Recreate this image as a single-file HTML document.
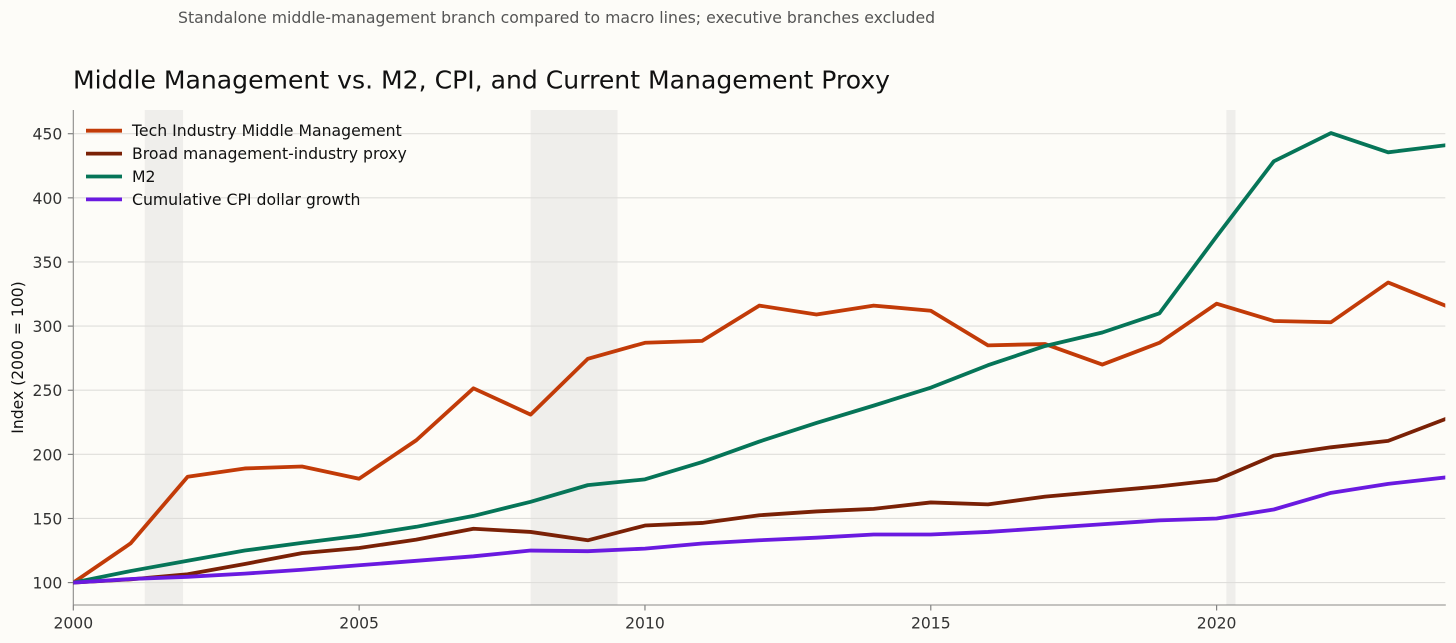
<!DOCTYPE html>
<html lang="en">
<head>
<meta charset="utf-8">
<title>Middle Management vs. M2, CPI, and Current Management Proxy</title>
<style>
  html, body { margin: 0; padding: 0; background: #fdfcf8; }
  body { width: 1456px; height: 643px; overflow: hidden; }
  svg { display: block; font-family: "DejaVu Sans", "Liberation Sans", sans-serif; }
</style>
</head>
<body>
<svg id="chart" xmlns="http://www.w3.org/2000/svg" width="1456" height="643" viewBox="0 0 1456 643">
  <rect x="0" y="0" width="1456" height="643" fill="#fdfcf8"/>
  <text x="178" y="23.2" font-size="15.7" fill="#555555">Standalone middle-management branch compared to macro lines; executive branches excluded</text>
  <text x="73" y="88.6" font-size="25.1" fill="#111111">Middle Management vs. M2, CPI, and Current Management Proxy</text>
  <text transform="translate(23 357.5) rotate(-90)" text-anchor="middle" font-size="15.6" fill="#111111">Index (2000 = 100)</text>
  <defs>
    <clipPath id="plot-clip"><rect x="73.3" y="110" width="1372" height="495"/></clipPath>
  </defs>
  <g id="recessions"></g>
  <g id="grid"></g>
  <g id="axes"></g>
  <g id="series" clip-path="url(#plot-clip)"></g>
  <g id="legend"></g>
</svg>
<script>
const years = [2000,2001,2002,2003,2004,2005,2006,2007,2008,2009,2010,2011,2012,2013,2014,2015,2016,2017,2018,2019,2020,2021,2022,2023,2024];
const techValues = [100,130.5,182.5,189,190.5,181,211,251.5,231,274.5,287,288.5,316,309,316,312,285,286,270,287,317.5,304,303,334,316];
const broadValues = [100,102.5,106.5,114.5,123,127,133.5,142,139.5,133,144.5,146.5,152.5,155.5,157.5,162.5,161,167,171,175,180,199,205.5,210.5,227.5];
const m2Values = [100,109,117,125,131,136.5,143.5,152,163,176,180.5,194,210,224.5,238,252,269.5,284.5,295,310,370,428.5,450.5,435.5,441];
const cpiValues = [100,102.8,104.5,107,110,113.5,117,120.5,125,124.5,126.5,130.5,133,135,137.5,137.5,139.5,142.5,145.5,148.5,150,157,170,177,182];
const xTicks = [2000,2005,2010,2015,2020];
const yTicks = [100,150,200,250,300,350,400,450];
const recessionStarts = [2001.25,2008,2020.17];
const recessionEnds = [2001.92,2009.52,2020.33];
const seriesNames = ["Tech Industry Middle Management","Broad management-industry proxy","M2","Cumulative CPI dollar growth"];
const seriesValues = [techValues,broadValues,m2Values,cpiValues];
const seriesColors = ["#c23b08","#7a2106","#067558","#6a1ae0"];

const NS = "http://www.w3.org/2000/svg";
const plotLeft = 73.3, plotRight = 1445.3, plotTop = 110, plotBottom = 605;
const xMin = 2000, xMax = 2024;
const yRef100 = 582.6, yPerUnit = 1.2825;

function xScale(v) { return plotLeft + (v - xMin) / (xMax - xMin) * (plotRight - plotLeft); }
function yScale(v) { return yRef100 - (v - 100) * yPerUnit; }
function slug(s) { return s.toLowerCase().replace(/[^a-z0-9]+/g, "-").replace(/^-|-$/g, ""); }
function make(tag, attrs, parent) {
  const el = document.createElementNS(NS, tag);
  for (const k in attrs) el.setAttribute(k, attrs[k]);
  parent.appendChild(el);
  return el;
}

const recessionGroup = document.getElementById("recessions");
recessionStarts.forEach(function (start, i) {
  const band = make("rect", {
    x: xScale(start), y: plotTop,
    width: xScale(recessionEnds[i]) - xScale(start), height: plotBottom - plotTop,
    fill: "#efeeeb"
  }, recessionGroup);
  
  
});

const gridGroup = document.getElementById("grid");
const axesGroup = document.getElementById("axes");
yTicks.forEach(function (t) {
  const y = yScale(t);
  const line = make("line", { x1: plotLeft, x2: plotRight, y1: y, y2: y, stroke: "#dfdedb", "stroke-width": 1.1 }, gridGroup);
  
  
  const tick = make("line", { x1: plotLeft - 5.5, x2: plotLeft, y1: y, y2: y, stroke: "#777777", "stroke-width": 1.1 }, axesGroup);
  
  
  const label = make("text", { x: plotLeft - 11, y: y + 5.9, "text-anchor": "end", "font-size": 15.6, fill: "#333333" }, axesGroup);
  label.textContent = String(t);
  
  
});
xTicks.forEach(function (t) {
  const x = xScale(t);
  const tick = make("line", { x1: x, x2: x, y1: plotBottom, y2: plotBottom + 5.5, stroke: "#777777", "stroke-width": 1.1 }, axesGroup);
  
  
  const label = make("text", { x: x, y: plotBottom + 23.3, "text-anchor": "middle", "font-size": 15.6, fill: "#333333" }, axesGroup);
  label.textContent = String(t);
  
  
});
const yAxisLine = make("line", { x1: plotLeft, x2: plotLeft, y1: plotTop, y2: plotBottom, stroke: "#8a8a88", "stroke-width": 1.1 }, axesGroup);


const xAxisLine = make("line", { x1: plotLeft, x2: plotRight + 0.5, y1: plotBottom, y2: plotBottom, stroke: "#8a8a88", "stroke-width": 1.1 }, axesGroup);



const seriesGroup = document.getElementById("series");
seriesValues.forEach(function (values, i) {
  const points = values.map(function (v, j) { return xScale(years[j]).toFixed(2) + "," + yScale(v).toFixed(2); }).join(" ");
  const poly = make("polyline", {
    points: points, fill: "none", stroke: seriesColors[i],
    "stroke-width": 3.8, "stroke-linejoin": "round", "stroke-linecap": "square"
  }, seriesGroup);
  
  
});

const legendGroup = document.getElementById("legend");
const legendRows = [130.7, 153.6, 176.5, 199.4];
seriesNames.forEach(function (name, i) {
  const y = legendRows[i];
  const swatch = make("line", { x1: 86, x2: 122, y1: y, y2: y, stroke: seriesColors[i], "stroke-width": 3.8 }, legendGroup);
  
  
  const label = make("text", { x: 132, y: y + 5.4, "font-size": 15.7, fill: "#111111" }, legendGroup);
  label.textContent = name;
  
  
});
</script>
</body>
</html>
